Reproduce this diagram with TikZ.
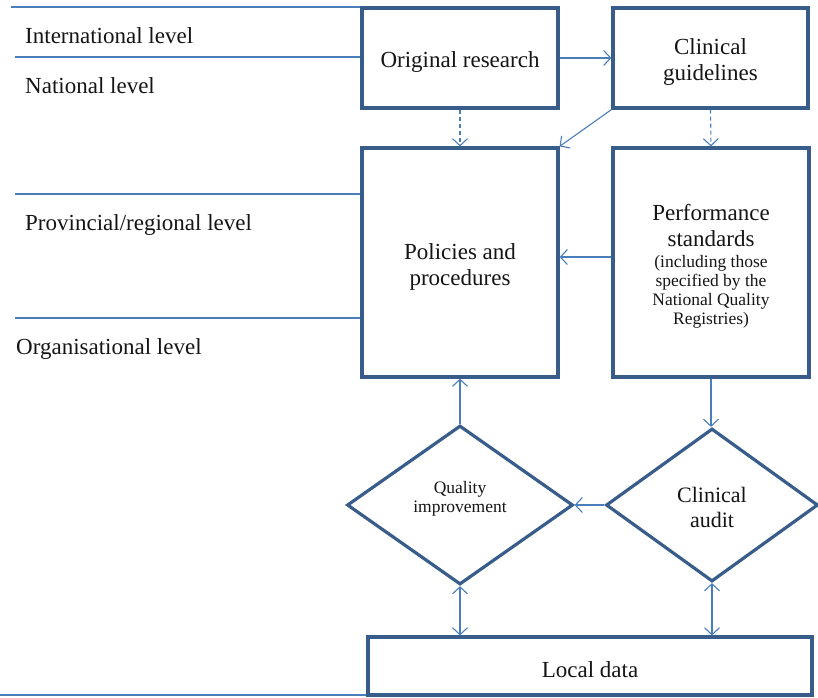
\documentclass[tikz,border=0pt]{standalone}
\usepackage{fontspec}
\setmainfont{Liberation Serif}
\usetikzlibrary{arrows.meta,shapes.geometric,calc}

\definecolor{boxblue}{HTML}{385D8A}
\definecolor{linkblue}{HTML}{4A7EBB}
\definecolor{ink}{HTML}{151515}

\newcommand\mainsize{\fontsize{23}{26}\selectfont}
\newcommand\notesize{\fontsize{17.5}{19}\selectfont}
\newcommand\qisize{\fontsize{17.5}{19}\selectfont}
\newcommand\auditsize{\fontsize{22}{25}\selectfont}

\tikzset{
  box/.style={draw=boxblue, line width=3.2pt, fill=white, inner sep=0pt},
  dia/.style={diamond, draw=boxblue, line width=3.2pt, fill=white, inner sep=0pt},
  boxtext/.style={align=center, font=\mainsize, text=ink, inner sep=0pt, yshift=-4pt},
  link/.style={draw=linkblue, line width=1.1pt,
    >={Straight Barb[length=7pt,width=15pt,line width=1.1pt]}},
  level/.style={draw=linkblue, line width=1.1pt},
  lvltext/.style={anchor=base west, font=\mainsize, text=ink, inner sep=0pt},
  plain/.style={align=center, text=ink, inner sep=0pt},
}

\begin{document}
\begin{tikzpicture}[x=1pt,y=-1pt]
\useasboundingbox (0,0) rectangle (818,697);

% boxes
\node[box, minimum width=196pt, minimum height=100pt] (orig) at (460,58) {};
\node[box, minimum width=195pt, minimum height=100pt] (guide) at (710.5,58) {};
\node[box, minimum width=196pt, minimum height=229pt] (pol) at (460,262.5) {};
\node[box, minimum width=196pt, minimum height=229pt] (perf) at (711,262.5) {};
\node[box, minimum width=444pt, minimum height=58pt] (local) at (590,666) {};

% box texts
\node[boxtext] (origtext) at (orig.center) {Original research};
\node[boxtext] (guidetext) at (guide.center) {Clinical\\guidelines};
\node[boxtext] (poltext) at (pol.center) {Policies and\\procedures};
\node[text=ink, inner sep=0pt, yshift=-4pt] (perftext) at (perf.center)
  {\parbox{190pt}{\centering
     {\mainsize Performance\\standards\par}\vspace{2pt}%
     {\notesize (including those\\specified by the\\National Quality\\Registries)\par}}};
\node[boxtext] (localtext) at (local.center) {Local data};

% decision shapes
\node[dia, minimum width=226pt, minimum height=159pt] (qi) at (460,505) {};
\node[dia, minimum width=212pt, minimum height=153pt] (audit) at (712,505) {};
\node[plain, font=\qisize, yshift=6pt] (qitext) at (qi.center) {Quality\\improvement};
\node[plain, font=\auditsize, yshift=-2pt] (audittext) at (audit.center) {Clinical\\audit};

% level separators
\coordinate (t1) at (11,7);
\coordinate (t2) at (15,57);
\coordinate (t3) at (15,194);
\coordinate (t4) at (15,318);
\coordinate (t5) at (0,695);
\draw[level] (t1) -- (t1 -| orig.west);
\draw[level] (t2) -- (t2 -| orig.west);
\draw[level] (t3) -- (t3 -| pol.west);
\draw[level] (t4) -- (t4 -| pol.west);
\draw[level] (t5) -- (t5 -| local.west);

% level labels
\node[lvltext] (lv1) at (25,43) {International level};
\node[lvltext] (lv2) at (25,93) {National level};
\node[lvltext] (lv3) at (25,230) {Provincial/regional level};
\node[lvltext] (lv4) at (16,354) {Organisational level};

% connectors
\draw[link, ->] (orig.east) -- (guide.west);
\draw[link, ->, dash pattern=on 4pt off 3pt] (orig.south) -- (pol.north);
\draw[link, ->, dash pattern=on 4pt off 3pt] (guide.south) -- (perf.north);
\draw[link, ->] (guide.south west) -- (pol.north east);
\draw[link, ->] ([yshift=5.5pt]perf.west) -- ([yshift=5.5pt]perf.west -| pol.east);
\draw[link, ->] (perf.south) -- (perf.south |- audit.north);
\draw[link, ->] (audit.west) -- (qi.east);
\draw[link, ->] (qi.north) -- (qi.north |- pol.south);
\draw[link, <->] (qi.south) -- (qi.south |- local.north);
\draw[link, <->] (audit.south) -- (audit.south |- local.north);
\end{tikzpicture}
\end{document}
